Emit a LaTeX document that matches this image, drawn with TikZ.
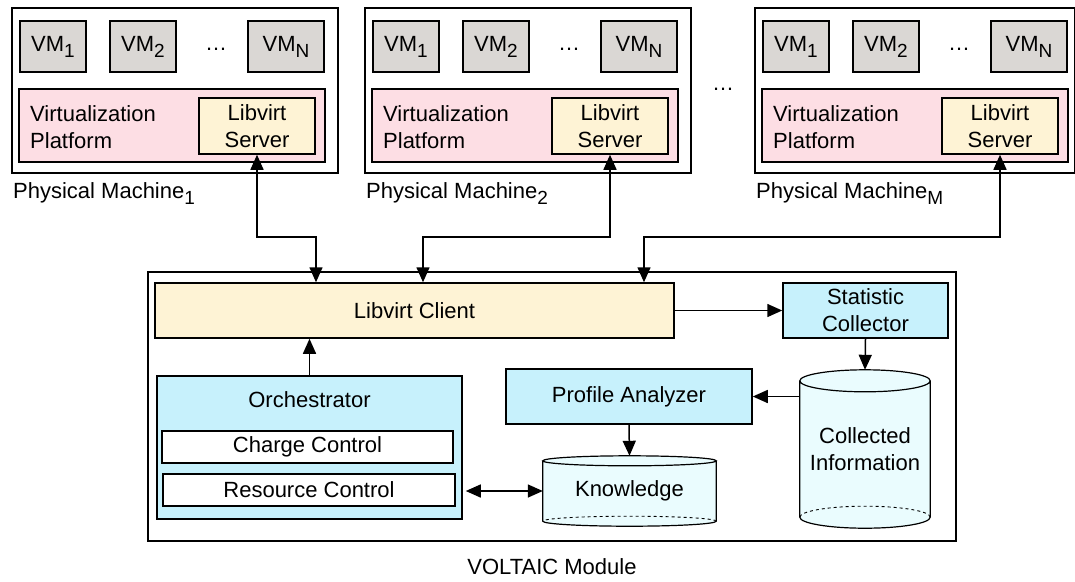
\documentclass[tikz,border=0pt]{standalone}
\usepackage{fontspec}
\setmainfont{Liberation Sans}
\usetikzlibrary{arrows.meta, positioning, calc, backgrounds}

\definecolor{vmgray}{RGB}{218,215,212}
\definecolor{platpink}{RGB}{253,222,228}
\definecolor{libcream}{RGB}{254,243,213}
\definecolor{modcyan}{RGB}{199,241,252}
\definecolor{dbcyan}{RGB}{234,252,254}

\newcommand{\idx}[1]{\raisebox{-6pt}{\fontsize{19}{19}\selectfont #1}}

\tikzset{
	box/.style = {draw, line width = 1.5pt, inner sep = 0pt, align = center},
	link/.style = {line width = 1.5pt, -{Triangle[length = 15pt, width = 13pt]}},
	twoway/.style = {line width = 1.5pt, {Triangle[length = 15pt, width = 13pt]}-{Triangle[length = 15pt, width = 13pt]}},
}

% database cylinder behind a node: #1 node, #2 half height of the ellipse
\newcommand{\dbcyl}[2]{%
	\path let \p1 = (#1.north west), \p2 = (#1.south east), \n1 = {(\x2 - \x1)/2} in
		[fill = dbcyan] (\x1, \y1 - #2) -- (\x1, \y2 + #2)
		arc [start angle = 180, end angle = 360, x radius = \n1, y radius = #2]
		-- (\x2, \y1 - #2)
		arc [start angle = 0, end angle = 180, x radius = \n1, y radius = #2] -- cycle;
	\draw [line width = 1.2pt] let \p1 = (#1.north west), \p2 = (#1.south east), \n1 = {(\x2 - \x1)/2} in
		(\x1, \y1 - #2) -- (\x1, \y2 + #2)
		arc [start angle = 180, end angle = 360, x radius = \n1, y radius = #2]
		-- (\x2, \y1 - #2)
		(\x1 + \n1, \y1 - #2) ellipse [x radius = \n1, y radius = #2];
	\draw [line width = 0.9pt, dashed] let \p1 = (#1.north west), \p2 = (#1.south east), \n1 = {(\x2 - \x1)/2} in
		(\x2, \y2 + #2) arc [start angle = 0, end angle = 180, x radius = \n1, y radius = #2];
}

\begin{document}
\begin{tikzpicture}[x = 1pt, y = -1pt, font = \fontsize{22}{27}\selectfont]
	\useasboundingbox (0,0) rectangle (1075,581);
	
	% physical machines
	\foreach \s/\w/\i in {0/326/1, 353/326/2, 743/320/M} {
		\begin{scope}[xshift = \s pt]
			\node [box, minimum width = \w pt, minimum height = 165pt, anchor = north west] (pm\i) at (11,7) {};
			\node [box, fill = vmgray, minimum width = 66pt, minimum height = 51pt] (vma\i) at (53,46.5) {VM\idx{1}};
			\node [box, fill = vmgray, minimum width = 66pt, minimum height = 51pt] (vmb\i) at (143,46.5) {VM\idx{2}};
			\node [box, fill = vmgray, minimum width = 76pt, minimum height = 51pt] (vmn\i) at (286,46.5) {VM\idx{N}};
			\node [anchor = base, inner sep = 0pt] (dots\i) at (216,50) {…};
			\node [box, fill = platpink, minimum width = 306pt, minimum height = 73pt] (plat\i) at (172,125.5) {};
			\node [anchor = west, align = left, inner sep = 0pt] at (30,127) {Virtualization\\Platform};
			\node [box, fill = libcream, minimum width = 116pt, minimum height = 56pt] (srv\i) at (257,126) {Libvirt\\Server};
			\node [anchor = base west, inner sep = 0pt] (pmname\i) at (13,198) {Physical Machine\idx{\i}};
		\end{scope}
	}
	\node [anchor = base, inner sep = 0pt] (moredots) at (723,90) {…};
	
	% VOLTAIC module
	\node [box, minimum width = 808pt, minimum height = 269pt] (volt) at (552,406.5) {};
	\node [below = 17pt of volt, inner sep = 0pt] (voltname) {VOLTAIC Module};
	
	\node [box, fill = libcream, minimum width = 519pt, minimum height = 55pt] (client) at (414.5,310.5) {Libvirt Client};
	\node [box, fill = modcyan, minimum width = 165pt, minimum height = 55pt] (stat) at (865.5,310.5) {Statistic\\Collector};
	\node [box, fill = modcyan, minimum width = 305pt, minimum height = 143pt] (orch) at (309.5,447.5) {};
	\node [inner sep = 0pt] (orchname) at (309.5,400) {Orchestrator};
	\node [box, fill = white, minimum width = 291pt, minimum height = 32pt] (charge) at (307.5,447) {Charge Control};
	\node [box, fill = white, minimum width = 292pt, minimum height = 32pt] (res) at (309,490) {Resource Control};
	\node [box, fill = modcyan, minimum width = 246pt, minimum height = 55pt] (prof) at (629,396.5) {Profile Analyzer};
	\node [inner sep = 0pt, minimum width = 173pt, minimum height = 70pt] (know) at (629.5,491) {Knowledge};
	\node [inner sep = 0pt, minimum width = 130pt, minimum height = 158pt, align = center] (coll) at (865,449) {Collected\\Information};
	
	\begin{scope}[on background layer]
		\dbcyl{know}{5pt}
		\dbcyl{coll}{11pt}
	\end{scope}
	
	% links to the machines
	\coordinate (j1) at (316,237);
	\coordinate (j2) at (423,237);
	\coordinate (jM) at (644,237);
	\draw [twoway] (srv1.south) |- (j1) -- (j1 |- client.north);
	\draw [twoway] (srv2.south) |- (j2) -- (j2 |- client.north);
	\draw [twoway] (srvM.south) |- (jM) -- (jM |- client.north);
	
	\draw [link] (orch.north) -- (orch.north |- client.south);
	\draw [link] (client.east) -- (stat.west);
	\draw [link] (stat.south) -- (coll.north);
	\draw [link] (coll.west |- prof.east) -- (prof.east);
	\draw [link] (prof.south) -- (know.north);
	\draw [twoway, shorten < = 3pt] (know.west -| orch.east) -- (know.west);
\end{tikzpicture}
\end{document}
